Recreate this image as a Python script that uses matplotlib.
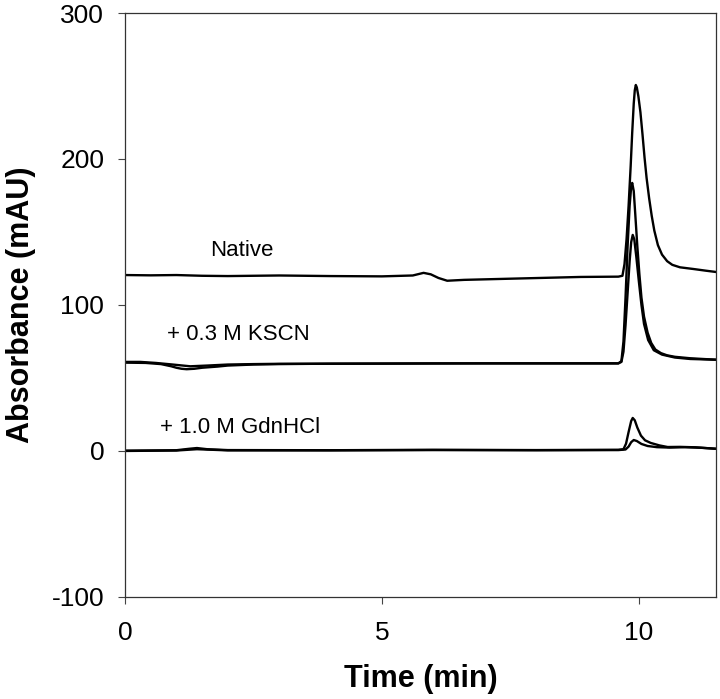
import matplotlib
matplotlib.use("Agg")
import matplotlib.pyplot as plt

plt.rcParams['font.family'] = ['Liberation Sans', 'DejaVu Sans']
plt.rcParams['axes.unicode_minus'] = False

# Native trace (time in min, absorbance in mAU)
native_t = [0, 0.5, 1.0, 1.5, 2.0, 3.0, 4.0, 5.0, 5.6, 5.81, 5.95, 6.1, 6.27, 6.6, 7.5, 8.87, 9.6,
            9.68, 9.72, 9.76, 9.80, 9.84, 9.87, 9.90, 9.92, 9.94, 9.96, 9.99, 10.03, 10.07, 10.11,
            10.15, 10.2, 10.25, 10.3, 10.37, 10.45, 10.55, 10.65, 10.8, 11.07, 11.3, 11.5]
native_y = [120.5, 120.3, 120.5, 120.0, 119.8, 120.2, 119.8, 119.6, 120.2, 122.0, 121.0, 118.5, 116.6,
            117.2, 118.0, 119.2, 119.4,
            120.0, 128.0, 145.0, 168.0, 195.0, 218.0, 238.0, 247.0, 250.7, 249.0, 243.0, 232.0, 217.0, 201.0,
            187.0, 173.0, 161.0, 151.0, 141.0, 134.5, 130.0, 127.5, 125.8, 124.6, 123.5, 122.6]

# +0.3 M KSCN, two runs
kscn_a_t = [0, 0.4, 0.7, 0.9, 1.0, 1.1, 1.2, 1.35, 1.5, 1.8, 2.0, 2.5, 3.0, 4.0, 6.0, 8.0, 9.6,
            9.66, 9.70, 9.74, 9.78, 9.82, 9.85, 9.87, 9.90, 9.93, 9.97, 10.01, 10.05, 10.1, 10.17,
            10.24, 10.32, 10.43, 10.55, 10.7, 11.0, 11.5]
kscn_a_y = [60.5, 60.3, 59.5, 58.0, 57.0, 56.3, 56.0, 56.3, 57.0, 57.8, 58.5, 59.2, 59.5, 59.8, 60.0,
            60.0, 60.0,
            61.5, 75.0, 105.0, 140.0, 168.0, 181.0, 183.6, 178.0, 162.0, 140.0, 121.0, 105.0, 92.0, 81.0,
            74.0, 69.5, 67.0, 65.5, 64.5, 63.5, 62.5]
kscn_b_t = [0, 0.3, 0.6, 0.9, 1.27, 1.6, 2.0, 2.5, 3.0, 5.0, 7.0, 9.0, 9.6,
            9.66, 9.70, 9.74, 9.78, 9.82, 9.85, 9.88, 9.91, 9.95, 10.0, 10.05, 10.1, 10.18, 10.29,
            10.45, 10.7, 11.0, 11.5]
kscn_b_y = [61.0, 61.0, 60.3, 59.3, 58.0, 58.5, 59.2, 59.5, 59.7, 59.8, 60.0, 60.0, 60.0,
            61.0, 68.0, 86.0, 108.0, 130.0, 143.0, 148.0, 145.0, 133.0, 116.0, 100.0, 87.0, 76.0, 69.0,
            66.0, 64.0, 63.0, 62.5]

# +1.0 M GdnHCl, two runs
gdn_a_t = [0, 1.0, 1.25, 1.4, 1.6, 2.0, 4.0, 6.0, 8.0, 9.6, 9.70, 9.75, 9.80, 9.85, 9.88, 9.92,
           9.97, 10.04, 10.12, 10.23, 10.4, 10.56, 10.8, 11.1, 11.3, 11.5]
gdn_a_y = [0.2, 0.5, 1.5, 2.0, 1.2, 0.6, 0.5, 0.8, 0.6, 0.8, 1.2, 5.0, 13.0, 20.5, 22.6, 21.0,
           16.0, 10.5, 7.3, 5.5, 3.8, 2.7, 2.8, 2.5, 2.0, 1.5]
gdn_b_t = [0, 1.0, 1.4, 2.0, 4.0, 6.0, 8.0, 9.6, 9.74, 9.80, 9.85, 9.9, 9.96, 10.05, 10.17, 10.35,
           10.6, 10.9, 11.2, 11.5]
gdn_b_y = [0.0, 0.3, 1.2, 0.4, 0.4, 0.6, 0.5, 0.6, 1.0, 3.0, 6.0, 7.5, 6.8, 4.8, 3.4, 2.6,
           2.3, 2.6, 2.2, 1.5]

labels = ["Native", "+ 0.3 M KSCN", "+ 1.0 M GdnHCl"]
label_x = [1.66, 0.82, 0.68]
label_y = [137, 79.5, 16]

fig = plt.figure(figsize=(7.2, 6.99), dpi=100)
ax = fig.add_axes([0.1736, 0.146, 0.8208, 0.8354])

for t, y in [(native_t, native_y), (kscn_a_t, kscn_a_y), (kscn_b_t, kscn_b_y),
             (gdn_a_t, gdn_a_y), (gdn_b_t, gdn_b_y)]:
    ax.plot(t, y, color='black', lw=1.7, solid_joinstyle='round')

for txt, x, y in zip(labels, label_x, label_y):
    ax.text(x, y, txt, fontsize=16, ha='left', va='center')

ax.set_xlim(0, 11.5)
ax.set_ylim(-100, 300)
ax.set_xticks([0, 5, 10])
ax.set_yticks([-100, 0, 100, 200, 300])
ax.tick_params(direction='out', length=5, width=0.8, labelsize=19, color='#444444')
ax.tick_params(axis='y', pad=10)
ax.tick_params(axis='x', pad=12)
for s in ax.spines.values():
    s.set_linewidth(0.9)
    s.set_color('#333333')

ax.set_xlabel('Time (min)', fontsize=22, fontweight='bold')
ax.set_ylabel('Absorbance (mAU)', fontsize=22, fontweight='bold')
ax.xaxis.set_label_coords(0.5, -0.115)
ax.yaxis.set_label_coords(-0.15, 0.5)

fig.savefig('out.png', dpi=100)
